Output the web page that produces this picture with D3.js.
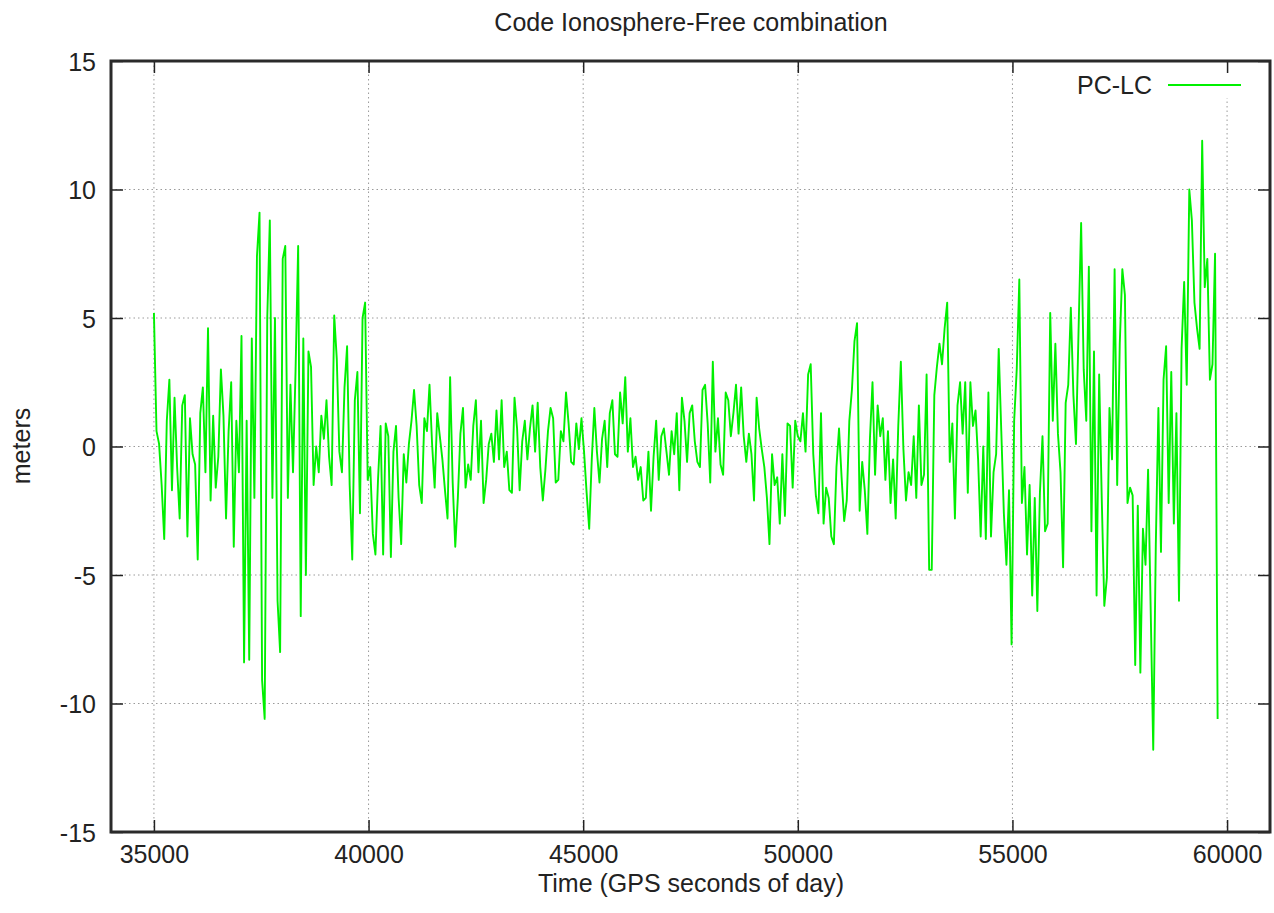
<!DOCTYPE html>
<html>
<head>
<meta charset="utf-8">
<script src="https://cdnjs.cloudflare.com/ajax/libs/d3/7.8.5/d3.min.js"></script>
<style>
  body { margin: 0; background: #fff; }
  #chart text { font-family: "Liberation Sans", Arial, sans-serif; font-size: 25px; fill: #222; }
</style>
</head>
<body>
<div id="chart"></div>
<script>
const chartTitle = "Code Ionosphere-Free combination";
const xTitle = "Time (GPS seconds of day)";
const yTitle = "meters";
const seriesName = "PC-LC";

const xTicks = [35000, 40000, 45000, 50000, 55000, 60000];
const yTicks = [-15, -10, -5, 0, 5, 10, 15];
const xRange = [34000, 61000];
const yRange = [-15, 15];

// one sample every 60 s starting at 35000 s
const startTime = 35000;
const sampleStep = 60;

// PC-LC residuals in meters
const pcLc = [
  // 35000 - 36920
  5.2, 0.6, 0.1, -1.5, -3.6, 1.0, 2.6, -1.7, 1.9, -0.8, -2.8, 1.6, 2.0, -3.5, 1.1, -0.3, -0.7,
  -4.4, 1.3, 2.3, -1.0, 4.6, -2.1, 1.2, -1.6, -0.4, 3.0, 1.2, -2.8, 0.6, 2.5, -3.9, 1.0,
  // 36980 - 39980
  -1.0, 4.3, -8.4, 1.0, -8.3, 4.2, -2.0, 7.4, 9.1, -9.1, -10.6, 5.0, 8.8, -2.0, 5.0, -6.0, -8.0,
  7.3, 7.8, -2.0, 2.4, -1.0, 3.0, 7.8, -6.6, 4.2, -5.0, 3.7, 3.1, -1.5, 0.0, -1.0, 1.2, 0.3,
  1.8, -0.4, -1.5, 5.1, 3.4, -0.2, -1.0, 2.3, 3.9, -1.5, -4.4, 1.8, 2.9, -2.6, 5.0, 5.6, -1.3,
  // 40040 - 42500
  -0.8, -3.4, -4.2, -1.3, 0.8, -4.2, 0.9, 0.4, -4.3, -0.2, 0.8, -2.0, -3.8, -0.3, -1.4, 0.1,
  1.0, 2.2, 0.8, -1.5, -2.2, 1.1, 0.6, 2.4, 0.1, -1.6, 1.3, 0.4, -0.5, -1.7, -2.8, 2.7, -1.4,
  -3.9, -2.0, 0.5, 1.5, -1.6, -0.7, -1.3, 0.8, 1.8,
  // 42560 - 44960
  -1.0, 1.0, -2.2, -1.3, 0.1, 0.5, -0.6, 1.4, -0.5, 1.8, -0.8, -0.2, -1.7, -1.8, 1.9, 0.7,
  -1.7, 0.2, 1.0, -0.5, 0.7, 1.6, -0.2, 1.7, -0.8, -2.1, -0.9, 0.6, 1.5, 1.1, -1.4, -1.3,
  0.6, 0.2, 2.1, 0.9, -0.6, -0.7, 0.9, -0.1, 1.1,
  // 45020 - 47480
  -0.2, -1.8, -3.2, -0.5, 1.5, -0.2, -1.4, 0.3, 1.0, -0.8, 1.3, 1.8, -0.3, -0.4, 2.1, 0.9,
  2.7, -0.2, 1.1, -0.8, -0.4, -1.3, -0.8, -2.1, -2.0, -0.2, -2.5, -0.4, 1.0, -1.3, 0.4, 0.7,
  -0.2, -1.1, 0.6, -0.3, 1.3, -1.7, 1.9, 1.0, -0.6, 1.3,
  // 47540 - 50000
  1.6, 0.2, -0.6, -0.8, 2.2, 2.4, 0.9, -1.4, 3.3, -0.2, 1.1, -0.7, -1.1, 2.1, 1.8, 0.4,
  1.3, 2.4, 0.5, 2.3, 0.4, -0.6, 0.5, -0.3, -2.1, 1.9, 0.7, -0.1, -0.8, -2.0, -3.8, -0.3,
  -1.5, -1.2, -3.0, -0.3, -2.7, 0.9, 0.8, -1.6, 1.0, 0.4,
  // 50060 - 52520
  0.2, 1.3, -0.2, 2.8, 3.2, -0.3, -1.9, -2.6, 1.3, -3.0, -1.6, -2.0, -3.5, -3.8, -0.8, 0.7,
  -1.2, -2.9, -2.1, 1.0, 2.2, 4.1, 4.8, -2.5, -0.6, -1.7, -3.4, 0.3, 2.5, -1.1, 1.6, 0.4,
  1.1, -1.3, 0.6, -2.2, -0.5, -2.8, 0.8, 3.3, -0.1, -2.1,
  // 52580 - 54860
  -1.0, -1.5, 0.4, -2.0, 1.6, -1.5, -1.1, 2.8, -4.8, -4.8, 2.0, 3.1, 4.0, 3.2, 4.6, 5.6,
  -0.6, 0.9, -2.8, 1.6, 2.5, 0.5, 2.5, -1.8, 2.5, 0.8, 1.4, -0.5, -3.5, 0.0, -3.6, 2.1,
  -3.5, -1.0, -0.3, 3.8, 0.6, -2.6, -4.6,
  // 54920 - 57560
  -1.7, -7.7, 1.0, 3.0, 6.5, -2.2, -0.8, -4.2, -1.5, -5.8, -2.0, -6.4, -1.8, 0.4, -3.3, -3.0,
  5.2, 1.0, 4.0, 0.5, -1.0, -4.7, 1.7, 2.4, 5.4, 2.0, 0.1, 4.5, 8.7, 3.0, 1.0, 7.0, -3.3,
  3.7, -5.8, 2.8, -2.0, -6.2, -5.1, 1.5, -0.5, 6.9, -1.5, 4.0, 6.9,
  // 57620 - 59780
  5.9, -2.2, -1.6, -1.9, -8.5, -2.3, -8.8, -3.2, -4.6, -0.9, -6.3, -11.8, -3.8, 1.5, -4.1,
  2.6, 3.9, -2.2, 2.9, -3.0, 1.3, -6.0, 3.8, 6.4, 2.4, 10.0, 8.8, 5.6, 4.6, 3.8, 11.9, 6.2,
  7.3, 2.6, 3.2, 7.5, -10.6
];

function ResidualPlot(id) {
  this.id = id;
  this.margin = { top: 61, right: 4, bottom: 81, left: 111 };
  this.width = 1274 - this.margin.left - this.margin.right;
  this.height = 913 - this.margin.top - this.margin.bottom;
  this.svg = null;
}

ResidualPlot.prototype = {
  constructor: ResidualPlot,

  init: function() {
    let self = this;

    let root = d3.select(self.id).append("svg")
      .attr("width", 1274)
      .attr("height", 913);

    self.svg = root.append("g")
      .attr("transform", "translate(" + self.margin.left + "," + self.margin.top + ")");

    let x = d3.scaleLinear().domain(xRange).range([0, self.width]);
    let y = d3.scaleLinear().domain(yRange).range([self.height, 0]);
    let plain = d => String(d);

    // dotted grid
    let grid = self.svg.append("g").attr("class", "grid")
      .attr("stroke", "#9a9a9a").attr("stroke-width", 1).attr("stroke-dasharray", "1.5,3");
    grid.selectAll(".gx").data(xTicks).enter().append("line")
      .attr("x1", d => x(d)).attr("x2", d => x(d))
      .attr("y1", 0).attr("y2", self.height);
    grid.selectAll(".gy").data(yTicks.filter(d => d > yRange[0] && d < yRange[1])).enter().append("line")
      .attr("x1", 0).attr("x2", self.width)
      .attr("y1", d => y(d)).attr("y2", d => y(d));

    // key area is kept clear of grid
    self.svg.append("rect")
      .attr("x", 950).attr("y", 3).attr("width", 195).attr("height", 34)
      .attr("fill", "#fff");

    // residual trace
    let line = d3.line()
      .x((d, i) => x(startTime + i * sampleStep))
      .y(d => y(d));

    self.svg.append("path")
      .datum(pcLc)
      .attr("fill", "none")
      .attr("stroke", "#00f000")
      .attr("stroke-width", 1.9)
      .attr("stroke-linejoin", "round")
      .attr("d", line);

    // axes, ticks pointing inward
    let xAxis = self.svg.append("g")
      .attr("transform", "translate(0," + self.height + ")")
      .call(d3.axisBottom(x).tickValues(xTicks).tickFormat(plain)
        .tickSizeInner(-12).tickSizeOuter(0).tickPadding(13));
    let yAxis = self.svg.append("g")
      .call(d3.axisLeft(y).tickValues(yTicks).tickFormat(plain)
        .tickSizeInner(-12).tickSizeOuter(0).tickPadding(15));
    let topAxis = self.svg.append("g")
      .call(d3.axisTop(x).tickValues(xTicks).tickSizeInner(-12).tickSizeOuter(0).tickFormat(""));
    let rightAxis = self.svg.append("g")
      .attr("transform", "translate(" + self.width + ",0)")
      .call(d3.axisRight(y).tickValues(yTicks).tickSizeInner(-12).tickSizeOuter(0).tickFormat(""));

    [xAxis, yAxis, topAxis, rightAxis].forEach(function(a) {
      a.select(".domain").remove();
      a.selectAll(".tick line").attr("stroke", "#222").attr("stroke-width", 1.5);
      a.selectAll("text").attr("font-size", null).attr("font-family", null);
    });
    yAxis.selectAll(".tick text").attr("dy", "0.36em");

    // border
    self.svg.append("rect")
      .attr("width", self.width).attr("height", self.height)
      .attr("fill", "none").attr("stroke", "#2a2a2a").attr("stroke-width", 3);

    // legend
    let key = self.svg.append("g").attr("class", "legend");
    key.append("text")
      .attr("x", 1041).attr("y", 33)
      .attr("text-anchor", "end")
      .text(seriesName);
    key.append("line")
      .attr("x1", 1057).attr("x2", 1130)
      .attr("y1", 24).attr("y2", 24)
      .attr("stroke", "#00f000").attr("stroke-width", 2);

    // titles
    root.append("text")
      .attr("x", 691).attr("y", 31)
      .attr("text-anchor", "middle")
      .text(chartTitle);
    root.append("text")
      .attr("x", 691).attr("y", 892)
      .attr("text-anchor", "middle")
      .text(xTitle);
    root.append("text")
      .attr("transform", "translate(30,446) rotate(-90)")
      .attr("text-anchor", "middle")
      .text(yTitle);
  }
};

let plot = new ResidualPlot("#chart");
plot.init();
</script>
</body>
</html>
